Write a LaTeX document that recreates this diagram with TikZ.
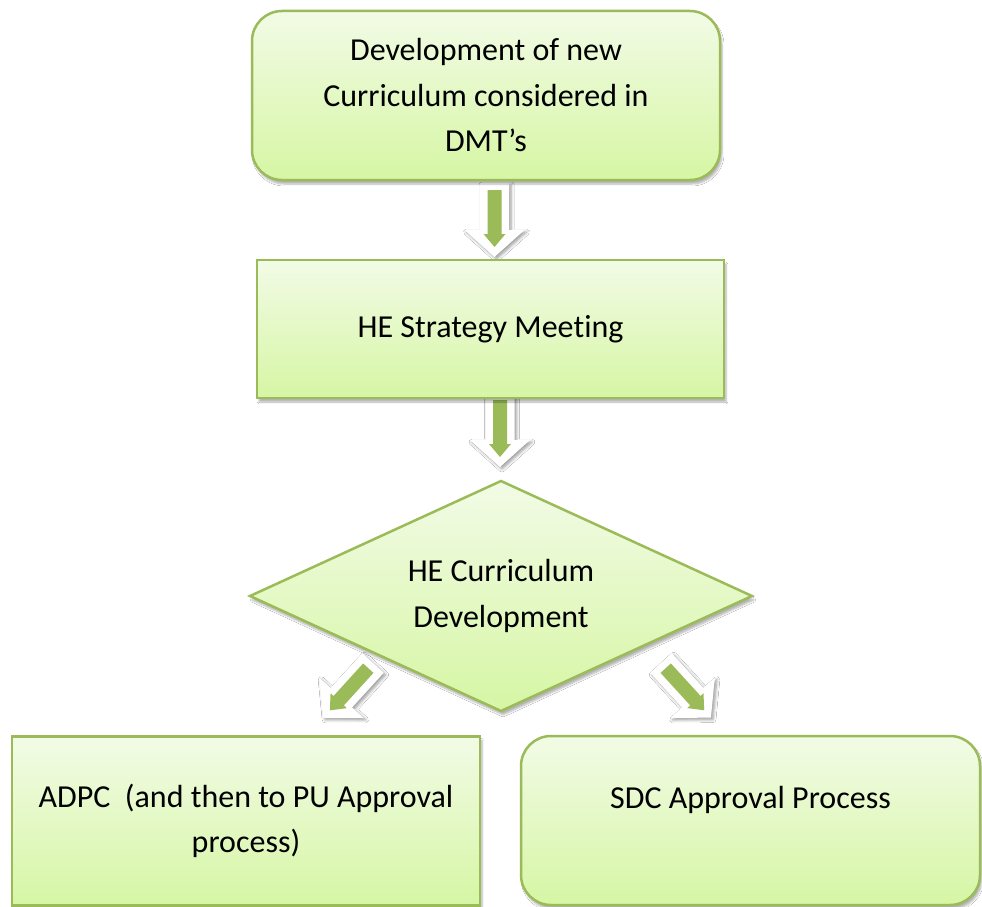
\documentclass[tikz,border=0pt]{standalone}
\usepackage{fontspec}
\setmainfont{Carlito}[Ligatures={NoCommon}]
\usetikzlibrary{shapes.geometric,shadows.blur}
\definecolor{bordergreen}{RGB}{155,187,89}
\definecolor{boxtop}{RGB}{242,251,230}
\definecolor{boxbot}{RGB}{214,246,164}
\begin{document}
\begin{tikzpicture}[x=1pt,y=-1pt,
  box/.style={draw=bordergreen, line width=2.5pt, top color=boxtop, bottom color=boxbot,
    blur shadow={shadow xshift=2pt, shadow yshift=-4pt, shadow blur steps=6, shadow opacity=30},
    align=center, font=\fontsize{32}{45.5}\selectfont, inner sep=0pt, text=black},
  pics/blockarrow/.style={code={
    \path[fill=white, blur shadow={shadow xshift=2pt, shadow yshift=-2pt, shadow blur steps=5, shadow opacity=40, shadow blur radius=3pt}]
      (0,-14.5) -- (47,-14.5) -- (47,-30) -- (74,0) -- (47,30) -- (47,14.5) -- (0,14.5) -- cycle;
    \fill[bordergreen] (7,-7) -- (51,-7) -- (51,-11) -- (64,0) -- (51,11) -- (51,7) -- (7,7) -- cycle;
  }}]
\useasboundingbox (0,0) rectangle (982,907);
\fill[white] (0,0) rectangle (982,907);

\coordinate (a1) at (494.5,183);
\coordinate (a2) at (500,393);
\coordinate (a3) at (373,663);
\coordinate (a4) at (661,663);
\pic[rotate=-90] at (a1) {blockarrow};
\pic[rotate=-90] at (a2) {blockarrow};
\pic[rotate=-132.3] at (a3) {blockarrow};
\pic[rotate=-47.6] at (a4) {blockarrow};

\node[box, rounded corners=30pt, minimum width=468pt, minimum height=169pt] (dev) at (486,95.5)
  {Development of new\\Curriculum considered in\\DMT’s};
\node[box, minimum width=467pt, minimum height=138pt] (strat) at (490.5,329) {HE Strategy Meeting};
\node[box, diamond, aspect=2.18, minimum width=503pt, minimum height=231pt] (cur) at (501,596)
  {HE Curriculum\\Development};
\node[box, minimum width=468pt, minimum height=169pt] (adpc) at (246,821)
  {ADPC\ \ (and then to PU Approval\\process)};
\node[box, rounded corners=30pt, minimum width=459pt, minimum height=169pt] (sdc) at (750.5,820.5)
  {SDC Approval Process\\\mbox{}};
\end{tikzpicture}
\end{document}
